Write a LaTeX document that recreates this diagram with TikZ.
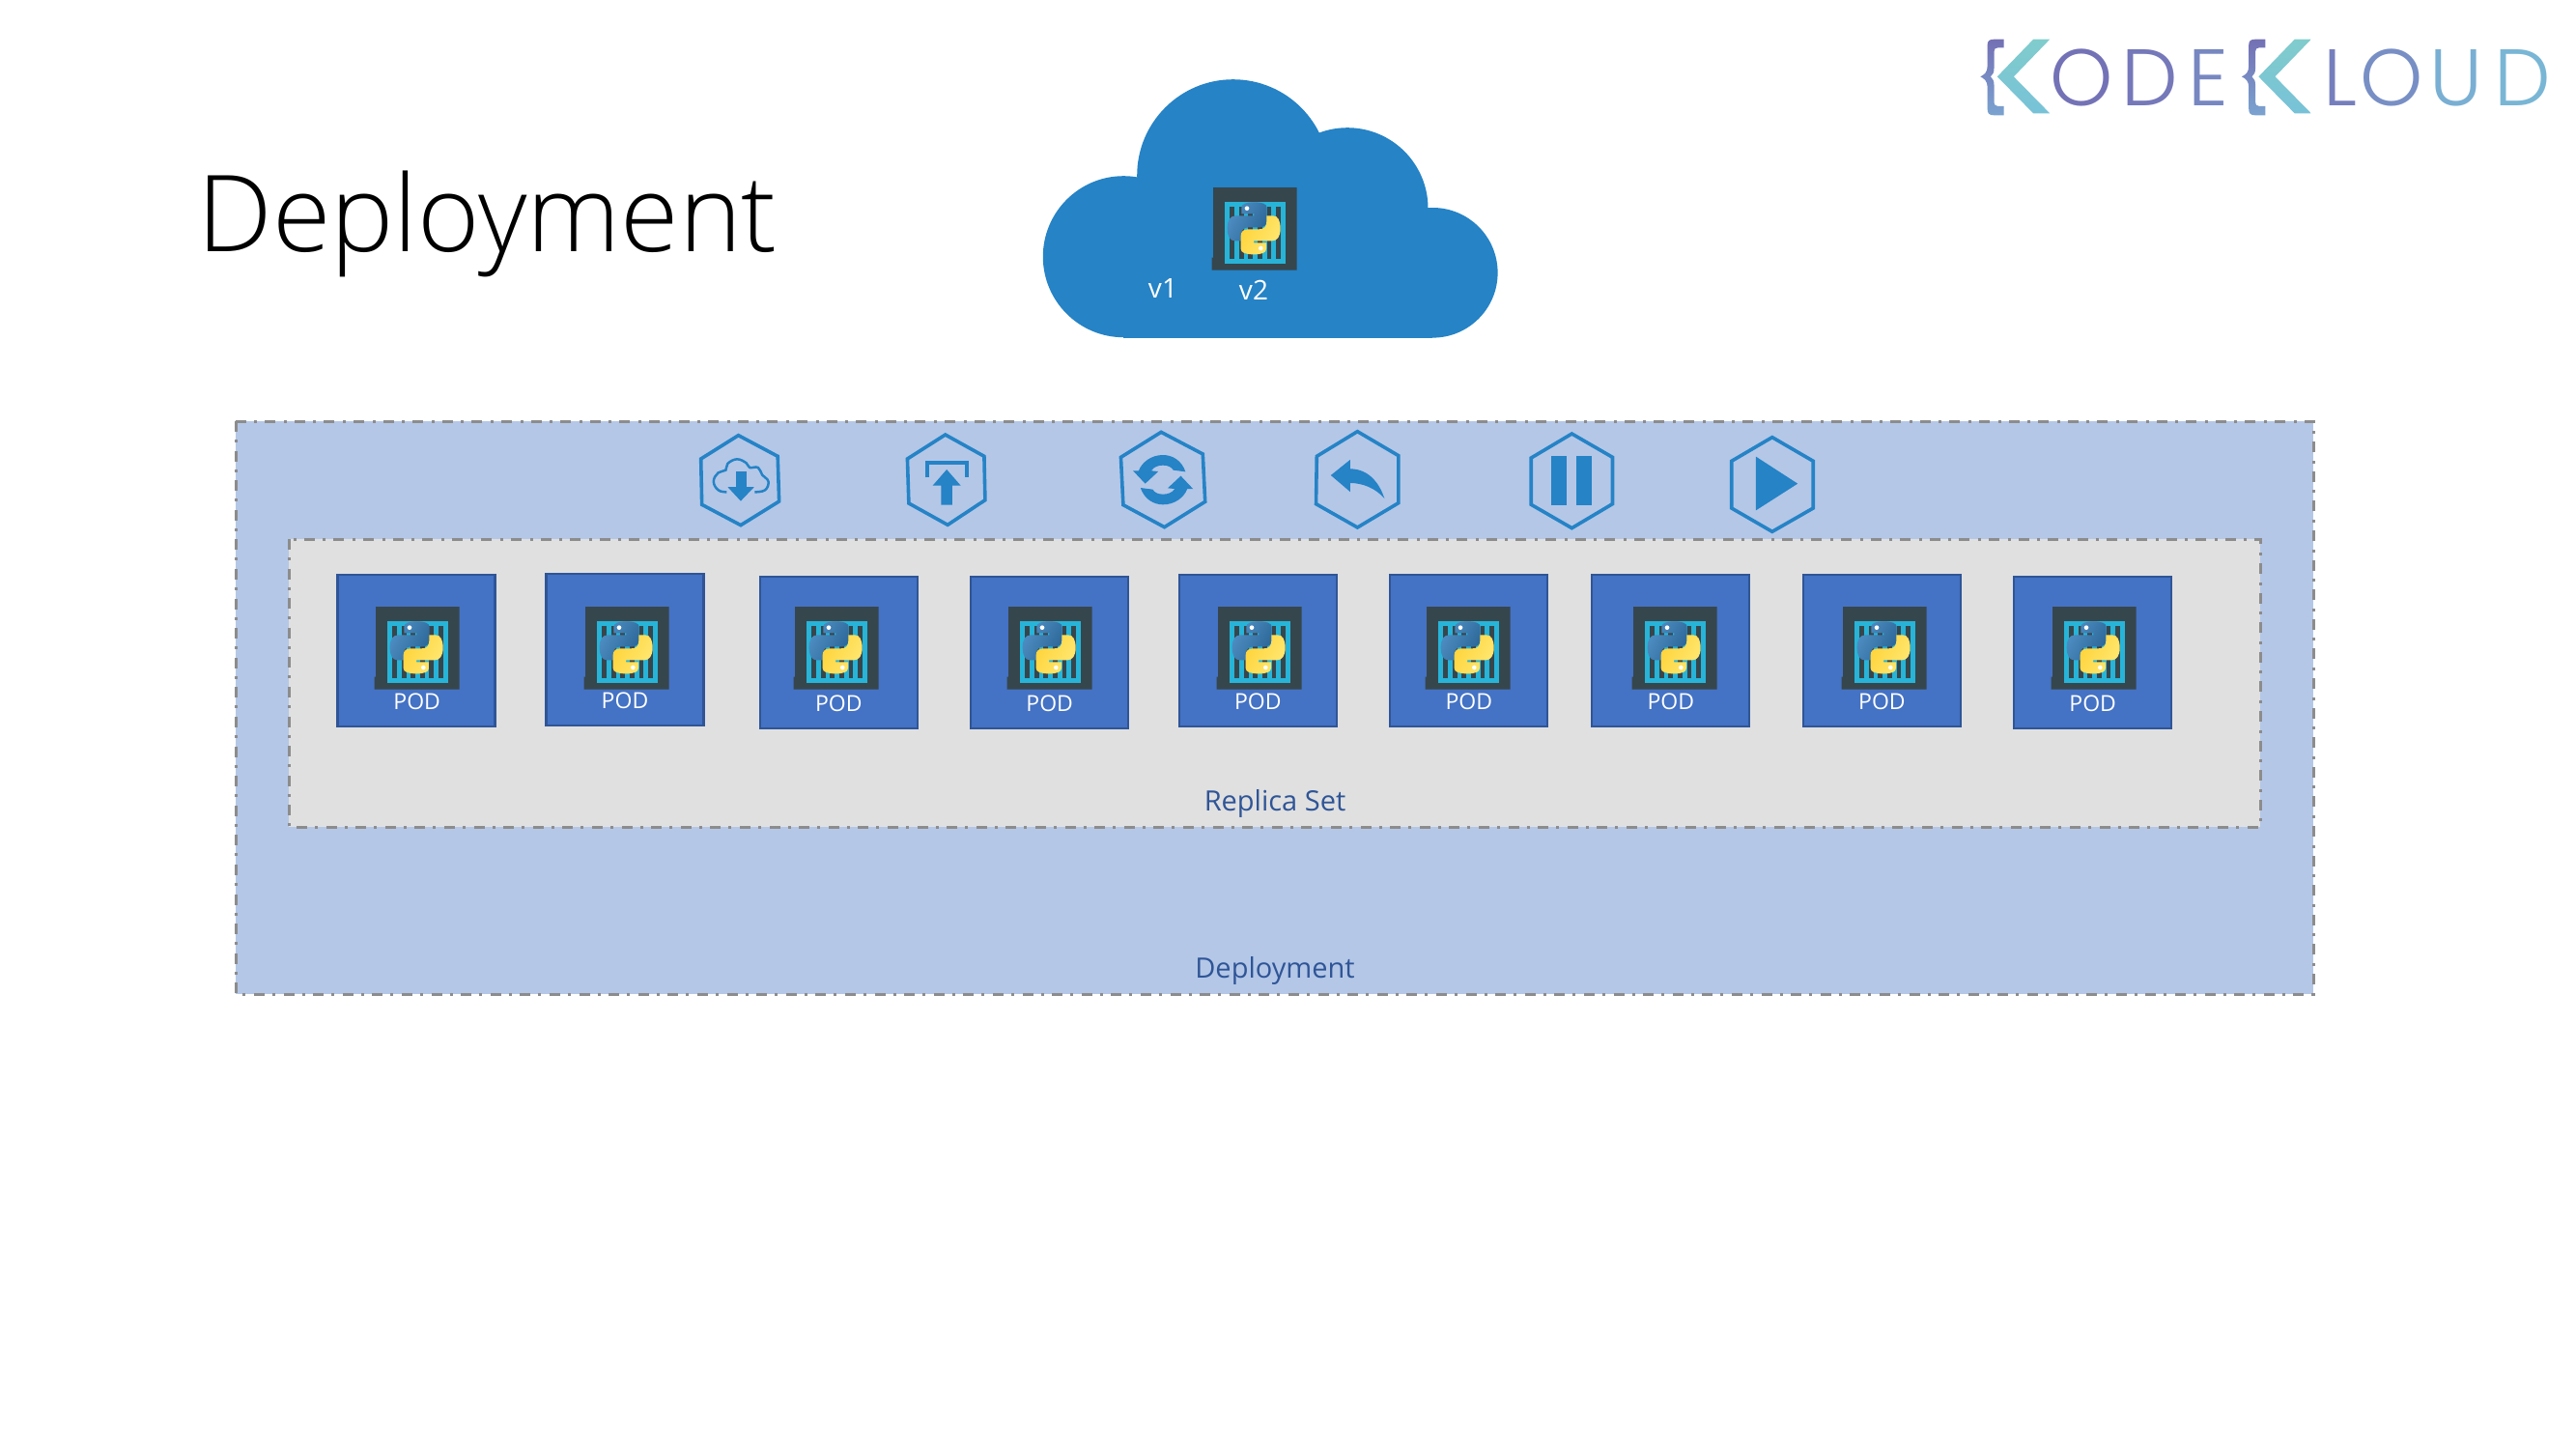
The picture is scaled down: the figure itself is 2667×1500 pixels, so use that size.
\documentclass[tikz,border=0pt]{standalone}
\usepackage{fontspec}
\setmainfont{Open Sans}
\newfontfamily\titlefont{Open Sans}[UprightFont=* Light]
\newfontfamily\logofont{Poppins}[UprightFont=* Light]
\definecolor{outerfill}{HTML}{B4C7E7}
\definecolor{innerfill}{HTML}{E0E0E0}
\definecolor{dashgray}{HTML}{8C8C8C}
\definecolor{podfill}{HTML}{4472C4}
\definecolor{podline}{HTML}{2F5597}
\definecolor{labelblue}{HTML}{2F5597}
\definecolor{cloudblue}{HTML}{2583C6}
\definecolor{darkbox}{HTML}{36464D}
\definecolor{cyanbox}{HTML}{27B4D8}
\definecolor{pyblueA}{HTML}{4F8FC4}
\definecolor{pyblueB}{HTML}{2C6596}
\definecolor{pyyelA}{HTML}{FFE873}
\definecolor{pyyelB}{HTML}{FFD43B}
\definecolor{logoA}{HTML}{7470B5}
\definecolor{logoB}{HTML}{7AA3D0}
\definecolor{logoC}{HTML}{80CCCC}
\definecolor{logoD}{HTML}{78C2D8}
\tikzset{
  dashbox/.style={draw=dashgray,line width=1.5pt,dash pattern=on 5.5pt off 4pt on 1.5pt off 4.3pt},
  podbox/.style={draw=podline,line width=1.2pt,fill=podfill,anchor=north west,minimum width=81.5pt,minimum height=78.5pt,inner sep=0pt,outer sep=0pt},
  podtext/.style={text=white,anchor=base,inner sep=0pt,font=\fontsize{11.5}{13}\selectfont},
  captext/.style={text=labelblue,anchor=base,inner sep=0pt,font=\fontsize{14.5}{16}\selectfont},
  vertext/.style={text=white,anchor=base,inner sep=0pt,font=\fontsize{14}{16}\selectfont},
  logotext/.style={anchor=base,inner sep=0pt,font=\logofont\fontsize{41.5}{44}\selectfont},
  hexline/.style={draw=cloudblue,line width=1.8pt,line join=miter},
  iconfill/.style={fill=cloudblue},
  pyicon/.pic={
    \begin{scope}[xscale=0.3333,yscale=0.3333,shift={(-175,-144)}]
      \fill[darkbox] (178,144)--(438,144)--(438,401)--(174,401)--(174,362)--(178,362)--cycle;
      \fill[cyanbox] (214,190) rectangle (404,380);
      \foreach \b in {230,258.5,287,316,344.5,373}{\fill[darkbox] (\b,205) rectangle ++(14,160);}
      \def\snake{(266,226) -- (266,207) .. controls (266,195) and (280,190) .. (305,190)
        .. controls (330,190) and (345,195) .. (345,207) -- (345,248)
        .. controls (345,262) and (335,268) .. (322,268) -- (288,268)
        .. controls (272,268) and (265,278) .. (265,292) -- (265,310) -- (245,310)
        .. controls (230,310) and (222,295) .. (222,270)
        .. controls (222,245) and (232,232) .. (248,232) -- (305,232) -- (305,226) -- cycle}
      \shade[left color=pyblueA,right color=pyblueB,shading angle=60] \snake;
      \fill[white] (283,209) circle[radius=7];
      \begin{scope}[rotate around={180:(304.5,271)}]
        \shade[left color=pyyelB,right color=pyyelA,shading angle=60] \snake;
        \fill[white] (283,209) circle[radius=7];
      \end{scope}
    \end{scope}
  }
}
\begin{document}
\begin{tikzpicture}[x=0.5pt,y=-0.5pt]
\useasboundingbox (0,0) rectangle (2667,1500);
\fill[white] (0,0) rectangle (2667,1500);

% title
\node[anchor=base west,inner sep=0pt,font=\titlefont\fontsize{55}{60}\selectfont] (title) at (204,260) {Deployment};

% logo
\begin{scope}[shift={(2030,20)},xscale=0.40625,yscale=0.3333]
  \foreach \dx in {0,666}{
    \begin{scope}[shift={(\dx,0)}]
    \shade[top color=logoA,bottom color=logoB]
      (110,62) -- (85,62) .. controls (72,62) and (68,68) .. (68,80) -- (68,145)
      .. controls (68,165) and (60,172) .. (50,178) .. controls (60,184) and (68,192) .. (68,210)
      -- (68,278) .. controls (68,292) and (72,298) .. (85,298) -- (110,298) -- (110,270)
      -- (95,270) .. controls (88,270) and (85,265) .. (85,255) -- (85,205)
      .. controls (85,192) and (82,184) .. (76,178) .. controls (82,172) and (85,165) .. (85,150)
      -- (85,100) .. controls (85,92) and (88,88) .. (95,88) -- (110,88) -- cycle;
    \shade[top color=logoC,bottom color=logoD]
      (185,62) -- (227,62) -- (135,178) -- (227,292) -- (185,292) -- (93,178) -- cycle;
    \end{scope}
  }
\end{scope}
\node[logotext,text=logoA!95!logoB] (lo1) at (2155.3,109.3) {O};
\node[logotext,text=logoA!85!logoB] (ld1) at (2225.6,109.3) {D};
\node[logotext,text=logoA!55!logoB] (le1) at (2286.3,109.3) {E};
\node[logotext,text=logoA!70!logoB] (ll1) at (2423.3,109.3) {L};
\node[logotext,text=logoA!40!logoB] (lo2) at (2476,109.3) {O};
\node[logotext,text=logoB!60!logoD] (lu1) at (2543,109.3) {U};
\node[logotext,text=logoB!40!logoD] (ld2) at (2611.7,109.3) {D};

% cloud
\fill[cloudblue] (1163.3,265.7) circle[radius=83.5];
\fill[cloudblue] (1276.7,181.7) circle[radius=99.5];
\fill[cloudblue] (1395,215.7) circle[radius=83.5];
\fill[cloudblue] (1483.3,282.3) circle[radius=67.3];
\fill[cloudblue] (1163.3,240) rectangle (1483.3,349.6);
\pic at (1255,194) {pyicon};
\node[vertext] (v1) at (1204,308) {v1};
\node[vertext] (v2) at (1298,310) {v2};

% containers
\fill[outerfill] (244,436) rectangle (2395,1029);
\draw[dashbox] (244,436) rectangle (2395,1029);
\fill[innerfill] (299,558) rectangle (2340,856);
\draw[dashbox] (299,558) rectangle (2340,856);
\node[captext] (replicaset) at (1320,839) {Replica Set};
\node[captext] (deployment) at (1320,1012) {Deployment};

% pods: index / box left / box top / icon left / label x / label baseline
\foreach \i/\px/\py/\ix/\lx/\ly in {
  1/349.5/595.2/388/431.7/734.3,
  2/565.5/593.9/605/647/733.3,
  3/786.7/596.9/822/868.4/736.7,
  4/1004.7/596.9/1043/1086.7/736.7,
  5/1220.8/595.2/1260/1302.4/734,
  6/1439.2/595.2/1476/1520.8/734,
  7/1648.2/595.2/1690/1729.8/734,
  8/1866.7/595.2/1907/1948.4/734,
  9/2085.2/597.2/2124/2166.7/736.7}{
  \node[podbox] (pod\i) at (\px,\py) {};
  \pic at (\ix,628) {pyicon};
  \node[podtext] (podlabel\i) at (\lx,\ly) {POD};
}

% action icons, first group
\begin{scope}[shift={(700,430)},xscale=0.4847,yscale=0.3333]
  % cloud download
  \draw[hexline] (133,62)--(217,127)--(220,267)--(138,341)--(55,277)--(53,135)--cycle;
  \draw[draw=cloudblue,line width=1.25pt] plot[smooth,tension=0.7] coordinates {(108,238) (90,232) (80,205) (90,178) (106,170) (110,150) (130,136) (150,148) (157,162) (175,162) (184,185) (197,205) (190,232) (168,238)};
  \fill[iconfill] (128,175) rectangle (150,225);
  \fill[iconfill] (110,222)--(167,222)--(138,266)--cycle;
  % upload
  \draw[hexline] (575,60)--(658,127)--(660,263)--(580,340)--(497,273)--(494,135)--cycle;
  \draw[draw=cloudblue,line width=2pt] (537,193)--(537,147)--(620,147)--(620,193);
  \fill[iconfill] (578,168)--(608,218)--(590,218)--(590,278)--(566,278)--(566,218)--(548,218)--cycle;
  % sync
  \draw[hexline] (1036,52)--(1125,120)--(1130,268)--(1043,347)--(955,278)--(950,130)--cycle;
  \fill[iconfill] (1088,175) .. controls (1080,140) and (1060,123) .. (1040,123)
     .. controls (1015,123) and (995,145) .. (988,172) -- (976,172) -- (1002,212) -- (1030,174) -- (1015,172)
     .. controls (1020,160) and (1030,155) .. (1040,155) .. controls (1050,155) and (1058,160) .. (1062,170) -- cycle;
  \fill[iconfill] (992,225) .. controls (1000,260) and (1020,277) .. (1040,277)
     .. controls (1065,277) and (1085,255) .. (1092,228) -- (1104,228) -- (1078,188) -- (1050,226) -- (1065,228)
     .. controls (1060,240) and (1050,245) .. (1040,245) .. controls (1030,245) and (1022,240) .. (1018,230) -- cycle;
\end{scope}

% action icons, second group
\begin{scope}[shift={(1330,430)},xscale=0.3827,yscale=0.3333]
  % undo
  \draw[hexline] (197,50)--(308,125)--(308,272)--(197,348)--(85,275)--(87,127)--cycle;
  \fill[iconfill] (125,186)--(177,138)--(177,166) .. controls (230,166) and (258,215) .. (270,258)
     .. controls (245,225) and (210,210) .. (177,210) -- (177,237) -- cycle;
  % pause
  \draw[hexline] (777,57)--(887,130)--(887,275)--(777,350)--(667,277)--(667,132)--cycle;
  \fill[iconfill] (720,127) rectangle (763,279);
  \fill[iconfill] (788,127) rectangle (831,279);
  % play
  \draw[hexline] (1319,68)--(1430,142)--(1430,288)--(1319,361)--(1209,288)--(1209,142)--cycle;
  \fill[iconfill] (1275,128)--(1388,212)--(1275,295)--cycle;
\end{scope}
\end{tikzpicture}
\end{document}
